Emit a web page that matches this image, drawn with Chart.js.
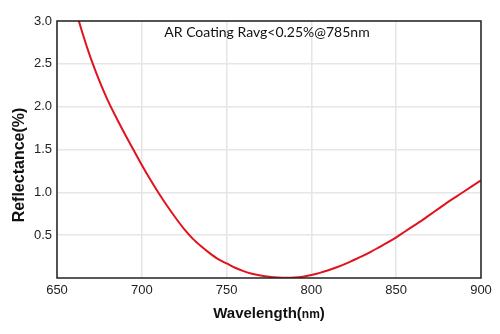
<!DOCTYPE html>
<html>
<head>
<meta charset="utf-8">
<script src="https://cdn.jsdelivr.net/npm/chart.js@4"></script>
<style>
    html, body { margin: 0; padding: 0; background: #fff; }
    #wrap { width: 500px; height: 334px; }
</style>
</head>
<body>
<div id="wrap"><canvas id="reflChart" width="500" height="334"></canvas></div>
<script>
// Reflectance curve (nm, %)
const wavelengths = [660, 665, 670, 675, 680, 685, 690, 695, 700, 705, 710, 715, 720, 725, 730, 735, 740, 745, 750,
    755, 760, 765, 770, 775, 780, 785, 790, 795, 800, 805, 810, 815, 820, 825, 830, 835, 840, 845, 850,
    855, 860, 865, 870, 875, 880, 885, 890, 895, 900];
const reflectance = [3.20, 2.86, 2.56, 2.30, 2.07, 1.87, 1.68, 1.50, 1.32, 1.15, 0.99, 0.84, 0.70, 0.57, 0.46, 0.37, 0.29, 0.22, 0.17,
    0.12, 0.08, 0.05, 0.03, 0.015, 0.006, 0.002, 0.005, 0.015, 0.035, 0.06, 0.09, 0.125, 0.165, 0.21, 0.255, 0.305, 0.36, 0.415, 0.475,
    0.54, 0.605, 0.67, 0.74, 0.81, 0.88, 0.945, 1.01, 1.075, 1.14];
const xTicks = [650, 700, 750, 800, 850, 900];
const yTicks = [0.5, 1.0, 1.5, 2.0, 2.5, 3.0];
const noteText = 'AR Coating Ravg<0.25%@785nm';

const points = wavelengths.map((w, i) => ({ x: w, y: reflectance[i] }));

// frame + annotation + axis titles
const decorations = {
    id: 'decorations',
    afterDraw(chart) {
        const { ctx, chartArea: a } = chart;
        ctx.save();
        ctx.strokeStyle = '#222';
        ctx.lineWidth = 1.5;
        ctx.strokeRect(a.left, a.top, a.right - a.left, a.bottom - a.top);

        ctx.fillStyle = '#111';
        ctx.font = '14px Lato';
        ctx.textAlign = 'center';
        ctx.textBaseline = 'middle';
        ctx.fillText(noteText, 267, 32);

        // x title, "nm" set smaller
        const big = 'bold 15px "Liberation Sans"';
        const small = 'bold 12px "Liberation Sans"';
        const parts = [['Wavelength(', big], ['nm', small], [')', big]];
        let total = 0;
        parts.forEach(p => { ctx.font = p[1]; total += ctx.measureText(p[0]).width; });
        let x = (a.left + a.right) / 2 - total / 2;
        ctx.textAlign = 'left';
        ctx.textBaseline = 'alphabetic';
        parts.forEach(p => {
            ctx.font = p[1];
            ctx.fillText(p[0], x, 318);
            x += ctx.measureText(p[0]).width;
        });

        // y title
        ctx.translate(24, 165);
        ctx.rotate(-Math.PI / 2);
        ctx.font = 'bold 16px "Liberation Sans"';
        ctx.textAlign = 'center';
        ctx.fillText('Reflectance(%)', 0, 0);
        ctx.restore();
    }
};

new Chart(document.getElementById('reflChart'), {
    type: 'line',
    data: {
        datasets: [{
            data: points,
            borderColor: '#e0141e',
            borderWidth: 2,
            pointRadius: 0,
            cubicInterpolationMode: 'monotone',
            fill: false
        }]
    },
    options: {
        responsive: false,
        animation: false,
        layout: { padding: { top: 21, right: 19, left: 0, bottom: 0 } },
        plugins: { legend: { display: false }, tooltip: { enabled: false } },
        scales: {
            x: {
                type: 'linear',
                min: 650,
                max: 900,
                afterBuildTicks: scale => { scale.ticks = xTicks.map(v => ({ value: v })); },
                afterFit: scale => { scale.height = 56; },
                grid: { color: '#e6e6e6', lineWidth: 1.5, drawTicks: false },
                border: { display: false },
                ticks: { color: '#222', font: { family: 'Liberation Sans', size: 13 }, padding: 5, maxRotation: 0 }
            },
            y: {
                min: 0,
                max: 3,
                afterBuildTicks: scale => { scale.ticks = yTicks.map(v => ({ value: v })); },
                afterFit: scale => { scale.width = 57; },
                grid: { color: '#e6e6e6', lineWidth: 1.5, drawTicks: false },
                border: { display: false },
                ticks: {
                    color: '#222',
                    font: { family: 'Liberation Sans', size: 13 },
                    padding: 5,
                    callback: v => v.toFixed(1)
                }
            }
        }
    },
    plugins: [decorations]
});
</script>
</body>
</html>
